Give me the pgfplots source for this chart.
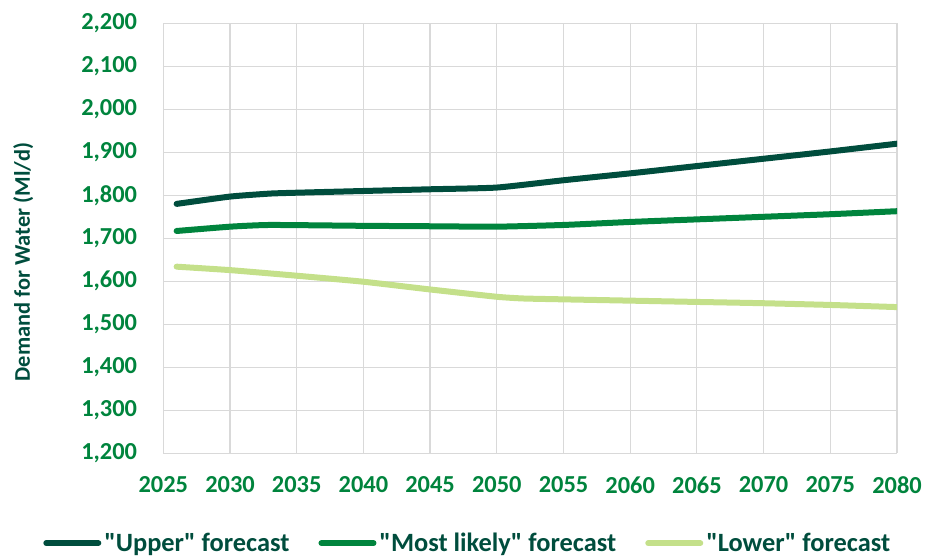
\documentclass[border=0pt]{standalone}
\usepackage{pgfplots}
\pgfplotsset{compat=1.18}
\usepackage{fontspec}
\setmainfont{Carlito}
\newfontfamily\plainfont{Carlito}
\definecolor{cUpper}{RGB}{0,77,61}
\definecolor{cMost}{RGB}{0,132,61}
\definecolor{cLower}{RGB}{196,224,138}
\definecolor{cTick}{RGB}{0,132,61}
\definecolor{cTitle}{RGB}{0,77,61}
\definecolor{cGrid}{RGB}{217,217,217}
\begin{document}
\begin{tikzpicture}
\path (-163.3bp,-101.7bp) rectangle (763.7bp,453.3bp);
\begin{axis}[
  at={(0,0)}, anchor=south west,
  scale only axis,
  width=733.7bp, height=430bp,
  xmin=2025, xmax=2080, ymin=1200, ymax=2200,
  xtick={2025,2030,...,2080},
  ytick={1200,1300,...,2200},
  grid=major,
  major grid style={draw=cGrid, line width=1.2bp},
  axis line style={draw=cGrid, line width=1.2bp},
  axis x line*=bottom, axis y line*=left,
  major tick length=0pt,
  every axis x line/.append style={-},
  every axis y line/.append style={-},
  tick label style={font=\bfseries\fontsize{24.5}{28}\selectfont, text=cTick, inner sep=0pt},
  /pgf/number format/assume math mode=true,
  yticklabel style={/pgf/number format/1000 sep={,}, anchor=east, xshift=-26bp},
  xticklabel style={/pgf/number format/1000 sep={}, anchor=north, yshift=-23bp},
  ylabel={Demand for Water (Ml/d)},
  ylabel style={font=\bfseries\fontsize{22.5}{26}\selectfont, text=cTitle, at={(rel axis cs:-0.1908,0.445)}, anchor=center},
  legend columns=3,
  legend style={draw=none, fill=none, at={(0.415,-0.209)}, anchor=center,
    font=\plainfont\bfseries\fontsize{26.5}{30}\selectfont, text=cTitle,
    /tikz/every even column/.append style={column sep=27bp},
    /tikz/every odd column/.append style={column sep=1bp}},
  legend image code/.code={\draw[#1, line cap=round] (0bp,0bp) -- (52bp,0bp);},
  legend cell align=left,
]
\addplot[cUpper, line width=6bp, line cap=round, line join=round, smooth, tension=0.3] coordinates {
(2026,1780) (2030,1797) (2033,1804) (2035,1806) (2040,1810) (2045,1814) (2050,1818)
(2055,1835) (2060,1851) (2065,1868) (2070,1885) (2075,1902) (2080,1920)};
\addlegendentry{"Upper" forecast}
\addplot[cMost, line width=6bp, line cap=round, line join=round, smooth, tension=0.3] coordinates {
(2026,1717) (2030,1727) (2033,1731) (2040,1729) (2045,1728) (2050,1727)
(2055,1731) (2060,1738) (2065,1744) (2070,1750) (2075,1756) (2080,1763)};
\addlegendentry{"Most likely" forecast}
\addplot[cLower, line width=6bp, line cap=round, line join=round, smooth, tension=0.3] coordinates {
(2026,1634) (2030,1626) (2035,1613) (2040,1599) (2045,1581) (2050,1564)
(2052,1560) (2055,1558) (2060,1555) (2065,1552) (2070,1549) (2075,1545) (2080,1540)};
\addlegendentry{"Lower" forecast}
\end{axis}
\end{tikzpicture}
\end{document}
